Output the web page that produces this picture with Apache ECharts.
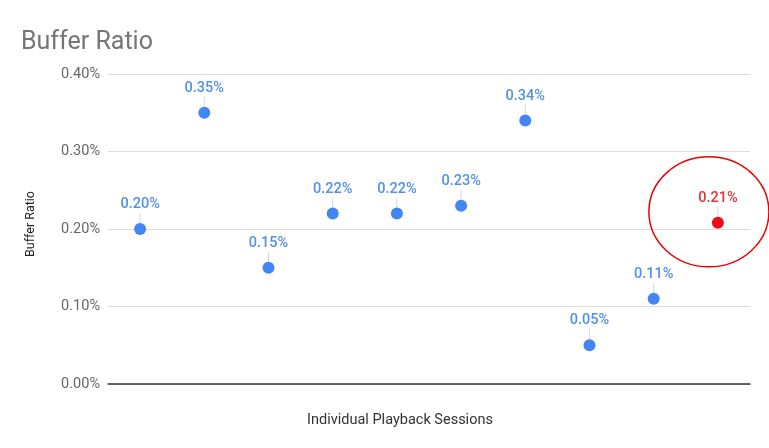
<!DOCTYPE html>
<html><head><meta charset="utf-8">
<script src="https://cdn.jsdelivr.net/npm/echarts@6/dist/echarts.min.js"></script>
<style>html,body{margin:0;padding:0;background:#fff}#c{width:769px;height:448px}</style>
</head><body><div id="c"></div>
<script>
var sessions = ['1','2','3','4','5','6','7','8','9','10'];
var bufferRatio = [0.200, 0.350, 0.150, 0.220, 0.220, 0.230, 0.340, 0.050, 0.110, 0.208];
var highlightIndex = 9;
var yTicks = [0, 0.1, 0.2, 0.3, 0.4];

var blue = '#4285f4', blueText = '#5290ea', red = '#f00a18', redText = '#e3343c';
var font = 'Roboto, "Noto Sans", sans-serif';

var chart = echarts.init(document.getElementById('c'));
var scatterData = bufferRatio.map(function (v, i) {
  var hi = i === highlightIndex;
  return {
    value: v,
    itemStyle: { color: hi ? red : blue, opacity: 1 },
    label: { color: hi ? redText : blueText }
  };
});

function buildGraphic(pt) {
  var g = [{
    type: 'text', x: 400, y: 420,
    style: { text: 'Individual Playback Sessions', font: '14.5px ' + font, fill: '#333',
      align: 'center', verticalAlign: 'middle' }
  }];
  if (pt) {
    g.push({
      type: 'ellipse',
      shape: { cx: pt[0] - 9, cy: pt[1] - 11, rx: 60, ry: 55 },
      style: { fill: 'none', stroke: '#e80000', lineWidth: 1.5 },
      z: 10
    });
  }
  return g;
}

chart.setOption({
  animation: false,
  title: {
    text: 'Buffer Ratio', left: 16, top: 25,
    textStyle: { fontFamily: font, fontSize: 25, fontWeight: 'normal', color: '#757575' }
  },
  grid: { left: 108, right: 19, top: 74, bottom: 64 },
  xAxis: {
    type: 'category', data: sessions, boundaryGap: true,
    axisLine: { lineStyle: { color: '#333', width: 1.5 } },
    axisTick: { show: false }, axisLabel: { show: false }
  },
  yAxis: {
    type: 'value', min: yTicks[0], max: yTicks[yTicks.length - 1], interval: 0.1,
    name: 'Buffer Ratio', nameLocation: 'middle', nameGap: 71,
    nameTextStyle: { fontFamily: font, fontSize: 12.5, color: '#222', padding: [0, 0, 0, 10] },
    axisLine: { show: false }, axisTick: { show: false },
    axisLabel: { fontFamily: font, fontSize: 14.5, color: '#666', margin: 8,
      formatter: function (v) { return v.toFixed(2) + '%'; } },
    splitLine: { lineStyle: { color: '#dcdcdc', width: 1 } }
  },
  graphic: buildGraphic(null),
  series: [{
    type: 'custom',
    data: bufferRatio,
    silent: true,
    z: 1,
    renderItem: function (params, api) {
      var p = api.coord([api.value(0), api.value(1)]);
      return { type: 'line', shape: { x1: p[0], y1: p[1] - 5, x2: p[0], y2: p[1] - 16 },
        style: { stroke: '#d8d8d8', lineWidth: 1 } };
    },
    encode: { x: 0, y: 1 }
  }, {
    type: 'scatter', data: scatterData, symbolSize: 12, z: 3,
    label: {
      show: true, position: 'top', distance: 11,
      fontFamily: font, fontSize: 14.5, fontWeight: 500,
      formatter: function (p) { return p.value.toFixed(2) + '%'; }
    }
  }]
});

var pt = chart.convertToPixel({ seriesIndex: 1 }, [highlightIndex, bufferRatio[highlightIndex]]);
chart.setOption({ graphic: buildGraphic(pt) }, { replaceMerge: ['graphic'] });
</script></body></html>
